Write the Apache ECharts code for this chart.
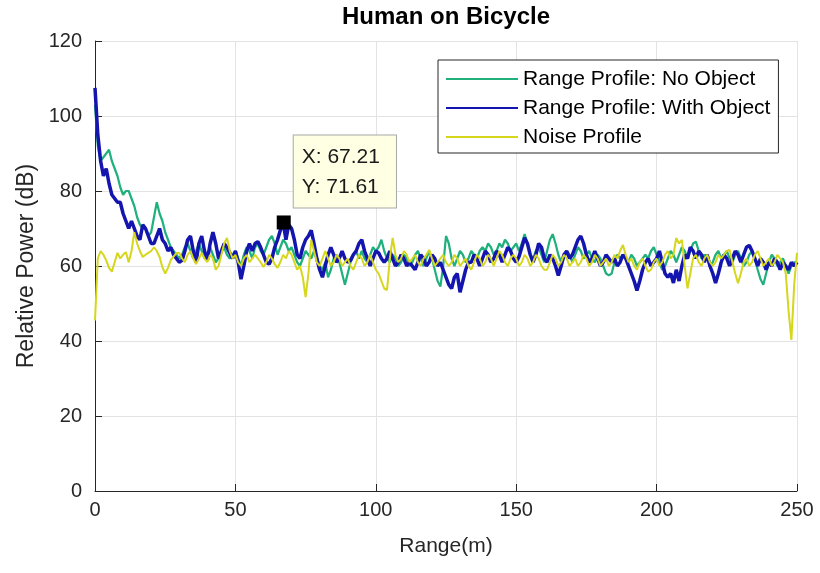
<!DOCTYPE html>
<html>
<head>
<meta charset="utf-8">
<title>Human on Bicycle</title>
<script src="https://cdn.jsdelivr.net/npm/echarts@6/dist/echarts.min.js"></script>
<style>
  html, body { margin: 0; padding: 0; background: #fff; }
  #chart { width: 820px; height: 573px; }
</style>
</head>
<body>
<div id="chart"></div>
<script>
// Range bins in metres (one sample per metre, 0..250 m)
const rangeStart = 0;
const rangeEnd = 250;

// Relative power (dB) per range bin
const noObject = [
  103, 92, 88, 89, 90, 91, 88, 86, 84, 81, 79, 80, 80, 78, 76, 73, 71, 70, 70, 68, 69, 73, 77, 74, 72,
  69, 67, 65, 64, 63, 62, 63, 65, 66, 64, 62, 64, 66, 64, 62, 63, 65, 63, 61, 62, 64, 65, 63, 62, 63,
  64, 62, 60, 63, 65, 64, 62, 65, 66, 64, 63, 65, 67, 68, 66, 63, 65, 67, 66, 64, 65, 63, 61, 60, 62,
  64, 63, 62, 64, 62, 60, 59, 61, 57, 59, 62, 63, 61, 58, 55, 58, 61, 63, 64, 62, 64, 62, 61, 63, 65,
  64, 65, 67, 64, 62, 61, 63, 62, 60, 61, 63, 62, 60, 61, 63, 64, 62, 60, 62, 64, 62, 59, 56, 54.5, 60,
  68, 66, 62, 60, 62, 64, 63, 61, 62, 64, 63, 62, 64, 65, 64, 66, 65, 63, 64, 66, 65, 67, 66, 64, 65,
  66, 64, 66, 68.5, 66, 63, 62, 64, 65, 63, 61, 64, 67, 68.5, 66, 63, 61, 62, 64, 63, 61, 63, 65, 64, 62,
  63, 64, 62, 61, 63, 62, 60, 58, 57.5, 58, 61, 63, 62, 63, 62, 61, 63, 62, 60, 61, 62, 63, 62, 64, 65,
  63, 61, 59, 60, 62, 64, 63, 61, 63, 65, 64, 62, 64, 66, 66.5, 64, 62, 63, 62, 60, 61, 63, 64, 62, 63,
  64, 62, 61, 63, 64, 62, 60, 61, 63, 64, 62, 59, 56.5, 55, 58, 61, 63, 62, 60, 61, 62, 60, 58, 60, 61,
  61
];
const withObject = [
  107.5, 95, 88, 84, 86, 82, 79, 78, 77, 77, 74, 72, 70, 72, 70, 68, 67, 71, 70, 68, 66, 66, 68, 70, 67,
  66, 64, 65, 63, 62, 61, 61.5, 64, 67, 68, 64, 61, 66, 68, 64, 61.5, 66, 69, 66, 62, 64, 66, 65, 63.5, 62,
  64, 61, 56.5, 60, 64, 66, 64, 66, 66.5, 65, 63, 61, 60.5, 62, 65, 67, 69.5, 71.61, 67, 71, 70, 67, 63, 62, 65,
  67, 68, 69.5, 66, 62, 59, 57, 60, 63, 65, 63, 61, 62, 64, 62, 61, 61.5, 63, 64, 66, 67, 64, 62, 60, 62,
  64, 63.5, 62, 61, 62, 64, 62, 60, 61, 63, 62, 60, 61, 60, 59, 61, 63, 62, 60, 61, 63, 62, 60, 61, 59,
  57, 55, 54, 57, 58, 53, 56, 59, 61, 61, 63, 62, 60, 62, 64, 63, 61, 62, 64, 63, 61, 63, 65, 64, 62,
  61, 62.5, 65, 67.5, 66, 63, 61, 63, 66, 65, 62, 61, 63, 62, 60, 57.5, 60, 63, 64, 62, 63, 65, 67, 68, 66,
  63, 61, 62, 64, 62, 60, 61, 63, 62, 61, 62, 60, 61, 63, 62, 60, 58, 56, 53.5, 56, 59, 61, 62, 60, 61,
  62, 64, 61, 58, 57, 58, 55.5, 59, 56, 60, 63, 62, 65, 64, 62, 64, 63, 61, 63, 60, 58, 55.5, 58, 61, 63,
  62, 60, 62, 64, 63, 61, 63, 65, 65.5, 64, 62, 60, 62, 61, 59, 61, 60, 62, 61, 59, 61, 60, 59, 61, 60,
  61
];
const noiseProfile = [
  45.5, 62, 64, 63, 61.5, 59.5, 58.5, 61, 63.5, 62, 63, 63.7, 61, 64, 69, 66, 64, 62.4, 63, 63.5, 64, 65, 64, 62.4, 59.7,
  58, 59.5, 61.6, 62.5, 63.5, 63.5, 62, 61, 63, 64, 62, 60.5, 62, 63.5, 62, 61, 63, 62, 59, 60, 63, 66, 67.5, 64, 62,
  63, 61, 60, 62, 63, 61, 62, 63, 62, 61, 59.7, 61, 63, 62, 60.5, 59.5, 61, 63, 62, 64, 63, 61, 59, 60, 57,
  51.7, 58, 67, 64, 61, 60, 62, 64, 62, 60, 61, 63, 62, 60, 61, 62, 60, 59, 61, 63, 62, 60, 61, 63, 61,
  59, 58, 56, 54, 53.6, 62, 67.5, 63, 61, 62, 64, 63, 61, 62, 63, 61, 60, 62, 63, 64.3, 62, 60, 61, 62, 63,
  61, 60, 61, 63, 62, 60, 61, 62, 60, 59, 61, 63, 62, 60, 61, 63, 62, 60, 62, 64, 63, 61, 60, 62, 63,
  62, 60, 61, 63, 62, 60, 61, 63, 62, 60, 59, 59, 61, 63, 62, 60, 61, 63, 62, 60, 61, 62, 60, 61, 63,
  62, 60, 61, 63, 62, 60, 61, 62, 60, 61, 63, 62, 64, 65.6, 63, 61, 62, 60, 59, 61, 62, 60, 58.5, 59, 61,
  62, 60, 61, 63, 64, 62, 63, 67.5, 66, 67, 60, 54, 58, 62, 63, 61, 60, 62, 63, 61, 60, 61, 63, 62, 63,
  64, 64.3, 61, 58, 55.4, 58, 61, 62, 60, 61, 63, 64, 62, 60, 61, 62, 60, 61, 63, 62, 61, 58, 48, 40.3, 55,
  63.5
];

// Data cursor readout on the "With Object" trace
const tipX = 67.21;
const tipY = 71.61;

// Axis ticks
const xTicks = [0, 50, 100, 150, 200, 250];
const yTicks = [0, 20, 40, 60, 80, 100, 120];

const seriesNames = ['Range Profile: No Object', 'Range Profile: With Object', 'Noise Profile'];
const seriesColors = ['#1fb07c', '#1414ae', '#d6d61c'];
const seriesWidths = [2.2, 3.5, 2];

const rangeM = [];
for (let r = rangeStart; r <= rangeEnd; r++) rangeM.push(r);
const pairs = vals => vals.map((v, i) => [rangeM[i], v]);

const FONT = '"Liberation Sans", Arial, Helvetica, sans-serif';
const chart = echarts.init(document.getElementById('chart'), null, { renderer: 'canvas' });

const lineSeries = [noObject, withObject, noiseProfile].map((vals, k) => ({
  name: seriesNames[k],
  type: 'line',
  data: pairs(vals),
  showSymbol: false,
  symbol: 'none',
  smooth: false,
  clip: true,
  z: 2 + k,
  lineStyle: { color: seriesColors[k], width: seriesWidths[k] },
  itemStyle: { color: seriesColors[k] },
  emphasis: { disabled: true }
}));

// Data tip marker and its readout box
lineSeries[1].markPoint = {
  z: 20,
  silent: true,
  animation: false,
  data: [{
    coord: [tipX, tipY],
    symbol: 'rect',
    symbolSize: 14,
    itemStyle: { color: '#000' },
    label: {
      show: true,
      position: [17, -80],
      align: 'left',
      verticalAlign: 'top',
      formatter: 'X: ' + tipX.toFixed(2) + '\nY: ' + tipY.toFixed(2),
      fontFamily: FONT,
      fontSize: 21,
      lineHeight: 30,
      color: '#1a1a1a',
      backgroundColor: '#ffffe4',
      borderColor: '#a8a8a8',
      borderWidth: 1,
      padding: [7, 16, 5, 8]
    }
  }]
};

const axisColor = '#262626';

chart.setOption({
  animation: false,
  backgroundColor: '#ffffff',
  textStyle: { fontFamily: FONT },
  grid: { left: 95, right: 23, top: 41, bottom: 82, containLabel: false },
  graphic: [{
    type: 'text',
    x: 446,
    y: 17,
    style: {
      text: 'Human on Bicycle',
      font: 'bold 24px ' + FONT,
      fill: '#000',
      align: 'center',
      verticalAlign: 'middle'
    }
  }],
  legend: {
    orient: 'vertical',
    left: 438,
    top: 60,
    data: seriesNames,
    itemWidth: 72,
    itemHeight: 14,
    itemGap: 7,
    padding: [8, 8, 5, 7],
    backgroundColor: '#ffffff',
    borderColor: axisColor,
    borderWidth: 1,
    borderRadius: 0,
    selectedMode: false,
    // line-only legend samples (hide the point marker)
    itemStyle: { opacity: 0 },
    textStyle: { fontFamily: FONT, fontSize: 21, lineHeight: 22, color: '#000' }
  },
  xAxis: {
    type: 'value',
    min: xTicks[0],
    max: xTicks[xTicks.length - 1],
    interval: xTicks[1] - xTicks[0],
    name: 'Range(m)',
    nameLocation: 'middle',
    nameGap: 45,
    nameTextStyle: { fontFamily: FONT, fontSize: 21, color: axisColor },
    axisLine: { show: true, onZero: false, lineStyle: { color: axisColor, width: 1 } },
    axisTick: { show: true, inside: true, length: 7, lineStyle: { color: axisColor } },
    axisLabel: { fontFamily: FONT, fontSize: 20, color: axisColor, margin: 9 },
    splitLine: { show: true, lineStyle: { color: '#e3e3e3', width: 1 } }
  },
  yAxis: {
    type: 'value',
    min: yTicks[0],
    max: yTicks[yTicks.length - 1],
    interval: yTicks[1] - yTicks[0],
    name: 'Relative Power (dB)',
    nameLocation: 'middle',
    nameGap: 50,
    nameRotate: 90,
    nameTextStyle: { fontFamily: FONT, fontSize: 23, color: axisColor },
    axisLine: { show: true, onZero: false, lineStyle: { color: axisColor, width: 1 } },
    axisTick: { show: true, inside: true, length: 7, lineStyle: { color: axisColor } },
    axisLabel: { fontFamily: FONT, fontSize: 20, color: axisColor, margin: 13 },
    splitLine: { show: true, lineStyle: { color: '#e3e3e3', width: 1 } }
  },
  series: lineSeries
});
</script>
</body>
</html>
